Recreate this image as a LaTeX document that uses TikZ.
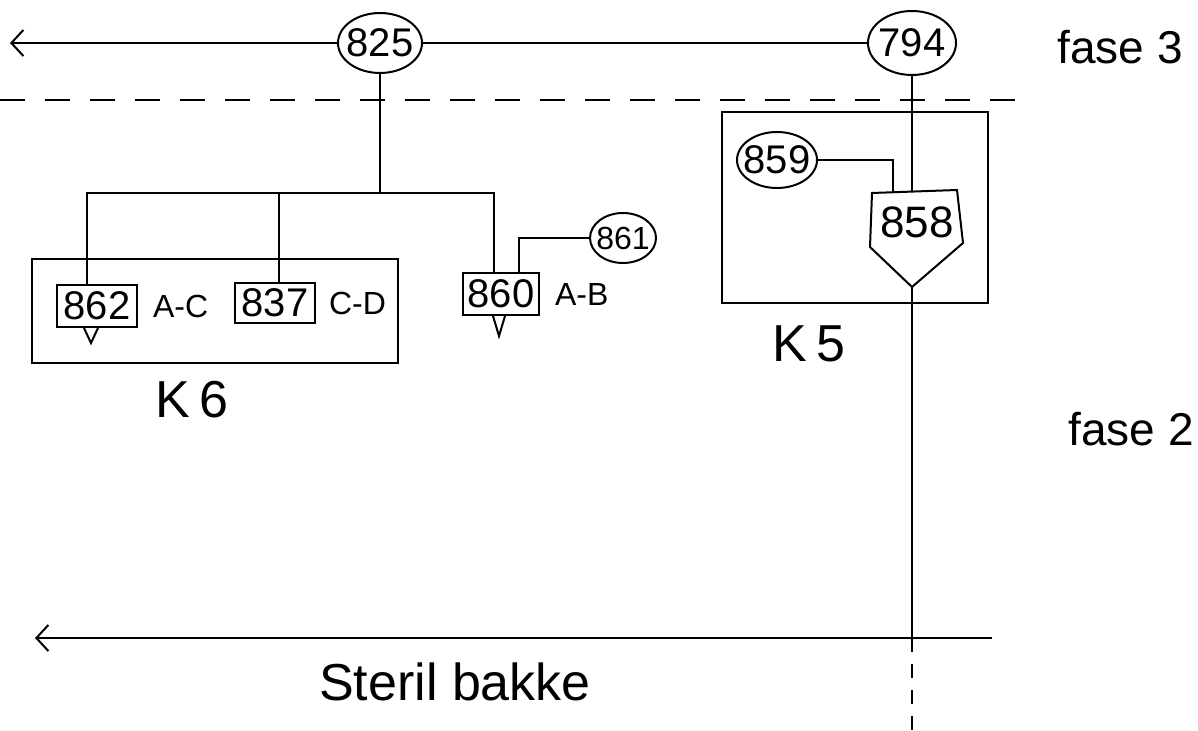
\documentclass[tikz,border=0pt]{standalone}
\usepackage{fontspec}
\setmainfont{Liberation Sans}
\usetikzlibrary{positioning,arrows.meta,shapes.geometric}
\newcommand{\tagno}[1]{\makebox[0pt]{#1}}

\begin{document}
\begin{tikzpicture}[x=0.5pt, y=-0.5pt, line width=1pt,
    tank/.style={ellipse, draw, inner sep=0pt, font=\fontsize{20}{24}\selectfont},
    unit/.style={draw, inner sep=0pt, minimum width=40pt, minimum height=21pt,
                 font=\fontsize{20}{24}\selectfont},
    frame/.style={draw},
    lbl/.style={inner sep=0pt, font=\fontsize{16}{19}\selectfont},
    big/.style={inner sep=0pt, anchor=base, font=\fontsize{26}{30}\selectfont},
    flow/.style={-{Straight Barb[length=6pt, width=13pt]}},
    phase/.style={dash pattern=on 12.5pt off 10pt},
    cut/.style={dash pattern=on 7pt off 6pt}
  ]
    \useasboundingbox (0,0) rectangle (1198,731);

    % fase 3
    \node[tank, minimum width=42pt, minimum height=30pt] (n825) at (380,43) {\tagno{825}};
    \node[tank, minimum width=44pt, minimum height=32pt] (n794) at (912,43) {\tagno{794}};
    \coordinate (w3) at (10,43);
    \node[big, font=\fontsize{23}{27}\selectfont] (f3) at (1120,64) {fase 3};
    \coordinate (d0) at (0,100);
    \coordinate (d1) at (1025,100);
    \draw[phase] (d0) -- (d1);

    % K6
    \draw[frame] (32,259) rectangle (398,363);
    \node[unit] (b862) at (97,306) {862};
    \node[unit, minimum height=20pt] (b837) at (275,303) {837};
    \node[unit, minimum width=38pt] (b860) at (501,294) {860};
    \node[lbl, right=7pt of b862] (lac) {A-C};
    \node[lbl, right=6pt of b837] (lcd) {C-D};
    \node[lbl, right=7pt of b860] (lab) {A-B};
    \node[tank, minimum width=33pt, minimum height=25pt,
          font=\fontsize{16}{19}\selectfont] (n861) at (623,238) {\tagno{861}};
    \node[big] (k6) at (192,418) {K\,6};

    % K5
    \draw[frame] (722,112) rectangle (988,303);
    \node[tank, minimum width=40pt, minimum height=28pt] (n859) at (777,160) {\tagno{859}};
    \node[inner sep=0pt, font=\fontsize{22}{26}\selectfont] (n858) at (917,222) {858};
    \draw (872,193) -- (957,190) -- (963,243) -- (912,287) -- (870,247) -- cycle;
    \coordinate (h858n) at (912,191);
    \coordinate (h858w) at (893,192);
    \coordinate (h858s) at (912,287);
    \node[big] (k5) at (809,362) {K\,5};

    % fase 2
    \node[big, font=\fontsize{23}{27}\selectfont] (f2) at (1131,445) {fase 2};
    \coordinate (cross) at (912,638);
    \coordinate (e2) at (992,638);
    \coordinate (w2) at (35,638);
    \coordinate (s2) at (912,731);
    \node[big] (steril) at (455,700) {Steril bakke};

    \coordinate (split) at (380,193);
    \coordinate (t862) at ([xshift=-5pt]b862.north);
    \coordinate (t837) at ([xshift=2pt]b837.north);
    \coordinate (t860) at ([xshift=-3.5pt]b860.north);
    \coordinate (t860b) at ([xshift=9pt]b860.north);

    \draw[flow] (n825) -- (w3);
    \draw (n825) -- (n794);
    \draw (n825) -- (split);
    \draw (t862) -- (t862 |- split) -- (t860 |- split) -- (t860);
    \draw (t837) -- (t837 |- split);
    \draw (t860b) |- (n861);
    \draw ([xshift=-6.5pt]b862.south) -- ++(7,15) -- ++(7,-15);
    \draw ([xshift=-4pt]b860.south) -- ++(6,20) -- ++(6,-20);
    \draw (n794) -- (h858n);
    \draw (n859) -| (h858w);
    \draw (h858s) -- (cross);
    \draw[cut] (cross) -- (s2);
    \draw[flow] (e2) -- (w2);
  \end{tikzpicture}
\end{document}
